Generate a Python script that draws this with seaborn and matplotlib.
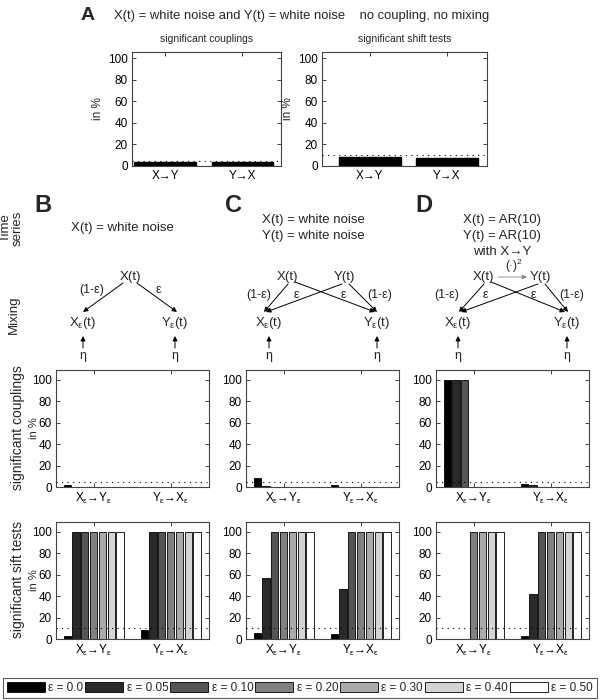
import numpy as np
import pandas as pd
import matplotlib
matplotlib.use('Agg')
import matplotlib.pyplot as plt
from matplotlib.patches import Patch
import seaborn as sns

# ---- data ----
eps_levels = ['0.0', '0.05', '0.10', '0.20', '0.30', '0.40', '0.50']
eps_colors = ['#000000', '#2a2a2a', '#555555', '#808080', '#aaaaaa', '#d4d4d4', '#ffffff']
directions_a = ['X→Y', 'Y→X']
directions = ['xy', 'yx']

a_couplings = [4, 4]
a_shift = [8, 7]

b_coup_xy = [2, 0, 0, 0, 0, 0, 0]
b_coup_yx = [0, 0, 0, 0, 0, 0, 0]
c_coup_xy = [8, 1, 0, 0, 0, 0, 0]
c_coup_yx = [2, 0, 0, 0, 0, 0, 0]
d_coup_xy = [100, 100, 100, 0, 0, 0, 0]
d_coup_yx = [3, 2, 0, 0, 0, 0, 0]

b_shift_xy = [3, 100, 100, 100, 100, 100, 100]
b_shift_yx = [8, 100, 100, 100, 100, 100, 100]
c_shift_xy = [6, 57, 100, 100, 100, 100, 100]
c_shift_yx = [5, 47, 100, 100, 100, 100, 100]
d_shift_xy = [0, 0, 0, 100, 100, 100, 100]
d_shift_yx = [3, 42, 100, 100, 100, 100, 100]

coupling_level = 5
shift_level = 10

sns.set_theme(style='ticks')
plt.rcParams['font.family'] = ['Liberation Sans', 'DejaVu Sans']
plt.rcParams['mathtext.fontset'] = 'custom'
plt.rcParams['mathtext.rm'] = 'Liberation Sans'
plt.rcParams['mathtext.it'] = 'Liberation Sans:italic'
plt.rcParams['mathtext.sf'] = 'Liberation Sans'

W, H = 600, 700
fig = plt.figure(figsize=(6, 7), dpi=100)


def px_axes(x0, y0, x1, y1):
    return fig.add_axes([x0 / W, 1 - y1 / H, (x1 - x0) / W, (y1 - y0) / H])


def style_axes(ax, ymax):
    ax.set_ylim(0, ymax)
    ax.set_yticks([0, 20, 40, 60, 80, 100])
    ax.tick_params(direction='in', length=3, width=0.6, labelsize=8.5, pad=3,
                   top=True, right=True, colors='#222222', labelcolor='black')
    for s in ax.spines.values():
        s.set_linewidth(0.8)
        s.set_color('#444444')
    ax.set_xlabel('')
    ax.set_ylabel('')


def grouped(ax, xy, yx, level):
    df = pd.DataFrame({
        'dir': np.repeat(directions, len(eps_levels)),
        'eps': eps_levels * 2,
        'val': list(xy) + list(yx),
    })
    sns.barplot(data=df, x='dir', y='val', hue='eps', hue_order=eps_levels,
                palette=eps_colors, width=0.8, gap=0.18, edgecolor='black',
                linewidth=0.6, legend=False, ax=ax, errorbar=None)
    ax.axhline(level, color='black', ls=(0, (1, 4)), lw=0.8, zorder=5)
    style_axes(ax, 109)
    ax.set_xlim(-0.49, 1.5)
    ax.set_xticks([0, 1])
    ax.set_xticklabels([r'X$_{\mathregular{ε}}$→Y$_{\mathregular{ε}}$',
                        r'Y$_{\mathregular{ε}}$→X$_{\mathregular{ε}}$'])


# ---- panel A ----
axA1 = px_axes(132, 52, 281, 166)
sns.barplot(x=directions_a, y=a_couplings, color='black', width=0.8,
            edgecolor='black', ax=axA1, errorbar=None)
axA1.axhline(coupling_level, color='black', ls=(0, (1, 4)), lw=0.8, zorder=5)
style_axes(axA1, 106)
axA1.set_xlim(-0.43, 1.5)
axA1.set_title('significant couplings', fontsize=7.5, pad=7)
axA1.set_ylabel('in %', fontsize=8.5, labelpad=3)

axA2 = px_axes(322, 52, 487, 166)
sns.barplot(x=directions_a, y=a_shift, color='black', width=0.8,
            edgecolor='black', ax=axA2, errorbar=None)
axA2.axhline(shift_level, color='black', ls=(0, (1, 4)), lw=0.8, zorder=5)
style_axes(axA2, 106)
axA2.set_xlim(-0.62, 1.52)
axA2.set_title('significant shift tests', fontsize=7.5, pad=7)
axA2.set_ylabel('in %', fontsize=8.5, labelpad=3)

# ---- panels B, C, D ----
lefts = [56, 246, 436]
coup = [(b_coup_xy, b_coup_yx), (c_coup_xy, c_coup_yx), (d_coup_xy, d_coup_yx)]
shift = [(b_shift_xy, b_shift_yx), (c_shift_xy, c_shift_yx), (d_shift_xy, d_shift_yx)]
for x0, (cx, cy), (sx, sy) in zip(lefts, coup, shift):
    ax1 = px_axes(x0, 370, x0 + 153, 487)
    grouped(ax1, cx, cy, coupling_level)
    ax2 = px_axes(x0, 522, x0 + 153, 639)
    grouped(ax2, sx, sy, shift_level)

# ---- text and diagrams in pixel coordinates ----
ov = fig.add_axes([0, 0, 1, 1], zorder=-1)
ov.set_xlim(0, W)
ov.set_ylim(H, 0)
ov.axis('off')


def txt(x, y, s, size=9.5, **kw):
    ov.text(x, y, s, fontsize=size, ha=kw.pop('ha', 'center'), va=kw.pop('va', 'center'), **kw)


def arrow(p0, p1, color='black', lw=0.7):
    ov.annotate('', xy=p1, xytext=p0,
                arrowprops=dict(arrowstyle='-|>', color=color, lw=lw,
                                mutation_scale=7, shrinkA=0, shrinkB=0))


txt(88, 16, 'A', 14, fontweight='bold')
txt(114, 16, 'X(t) = white noise and Y(t) = white noise    no coupling, no mixing', 9.4, ha='left')

for lab, x in zip('BCD', [43, 234, 424]):
    txt(x, 205, lab, 17, fontweight='bold')

txt(12, 228, 'Time\nseries', 9.5, rotation=90, linespacing=0.95)
txt(14, 315, 'Mixing', 9.5, rotation=90)
txt(18, 428, 'significant couplings', 10, rotation=90)
txt(34, 428, 'in %', 8, rotation=90)
txt(18, 580, 'significant sift tests', 10, rotation=90)
txt(34, 580, 'in %', 8, rotation=90)

txt(122, 228, 'X(t) = white noise')
txt(313, 220, 'X(t) = white noise')
txt(313, 236, 'Y(t) = white noise')
txt(502, 220, 'X(t) = AR(10)')
txt(502, 236, 'Y(t) = AR(10)')
txt(502, 252, 'with X→Y')

XE = r'X$_{\mathregular{ε}}$(t)'
YE = r'Y$_{\mathregular{ε}}$(t)'

# B
txt(130, 277, 'X(t)')
txt(83, 323, XE)
txt(175, 323, YE)
txt(92, 290, '(1-ε)', 9)
txt(158, 290, 'ε', 9)
arrow((123, 283), (83, 312))
arrow((137, 283), (177, 312))

# C
txt(287, 277, 'X(t)')
txt(344, 277, 'Y(t)')
txt(269, 323, XE)
txt(377, 323, YE)
txt(259, 295, '(1-ε)', 9)
txt(296, 295, 'ε', 9)
txt(343, 295, 'ε', 9)
txt(380, 295, '(1-ε)', 9)
arrow((288, 284), (264, 312))
arrow((295, 282), (375, 312))
arrow((342, 284), (266, 312))
arrow((349, 284), (377, 312))

# D
txt(483, 277, 'X(t)')
txt(540, 277, 'Y(t)')
txt(458, 323, XE)
txt(567, 323, YE)
txt(447, 295, '(1-ε)', 9)
txt(485, 295, 'ε', 9)
txt(533, 295, 'ε', 9)
txt(572, 295, '(1-ε)', 9)
txt(514, 266, '(·)$^{\\mathregular{2}}$', 8.5)
arrow((498, 277), (527, 277), color='#888888', lw=0.6)
arrow((484, 284), (459, 312))
arrow((491, 282), (565, 312))
arrow((538, 284), (461, 312))
arrow((545, 284), (568, 312))

for x in [83, 175, 269, 377, 458, 567]:
    arrow((x, 348), (x, 336))
    txt(x, 356, 'η', 9)

# ---- legend ----
handles = [Patch(facecolor=c, edgecolor='black', linewidth=0.6) for c in eps_colors]
labels = ['ε = ' + e for e in eps_levels]
leg = fig.legend(handles, labels, ncol=7, loc='lower left', mode='expand',
                 bbox_to_anchor=(3 / W, 1 - 698 / H, 594 / W, 19 / H),
                 fontsize=8.5, handlelength=3.2, handleheight=0.9, handletextpad=0.3,
                 columnspacing=0.6, borderpad=0.35, fancybox=False, frameon=True,
                 borderaxespad=0)
leg.get_frame().set_edgecolor('#333333')
leg.get_frame().set_linewidth(0.8)

fig.savefig('out.png', dpi=100, facecolor='white')
